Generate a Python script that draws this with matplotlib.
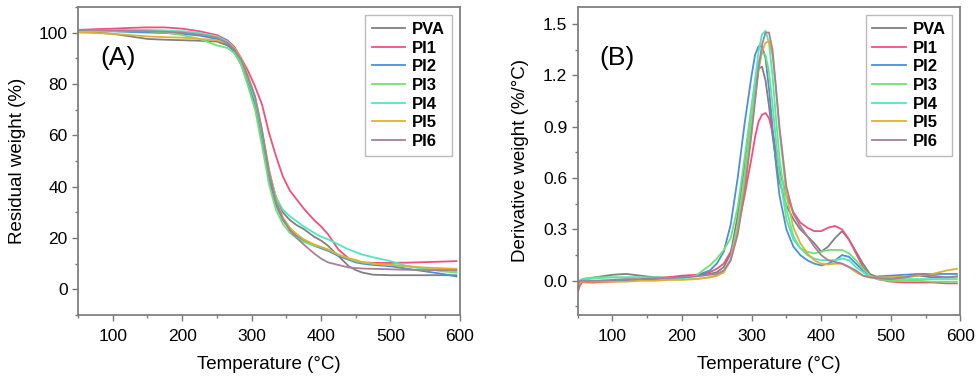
import matplotlib
matplotlib.use("Agg")
import matplotlib.pyplot as plt
from matplotlib.ticker import MultipleLocator, FormatStrFormatter

plt.rcParams['font.family'] = ['Liberation Sans', 'DejaVu Sans']

names = ["PVA", "PI1", "PI2", "PI3", "PI4", "PI5", "PI6"]
colors = ["#808080", "#f2507a", "#4a8fe0", "#6ee46e", "#4de8c0", "#e0b030", "#a88098"]

# (A) TGA curves
temp_a = [50, 75, 100, 125, 150, 175, 200, 225, 250, 265, 275, 285, 295, 305, 315,
          325, 335, 345, 355, 365, 375, 390, 400, 410, 425, 440, 450, 460, 475,
          500, 525, 550, 575, 595]
tga_pva = [100.5, 100, 99.5, 98.5, 97.5, 97.2, 97, 96.8, 96.5, 95, 93, 89, 82, 74, 61,
           46, 36, 30, 27, 25, 23.5, 20.5, 19, 17, 13, 9, 7.5, 6.5, 5.7,
           5.5, 5.5, 5.5, 5.5, 5.5]
tga_pi1 = [101, 101.3, 101.5, 101.8, 102, 102, 101.5, 100.5, 99, 97, 94.5, 90, 85, 79, 72,
           61, 52, 44, 38.5, 35, 31.5, 27, 24.5, 21.5, 15.5, 12, 11, 10.5, 10.3,
           10.3, 10.4, 10.6, 10.8, 11]
tga_pi2 = [101, 100.8, 100.5, 100.2, 100, 99.8, 99.5, 98.8, 97.5, 95.5, 92.5, 87.5, 80, 72, 58,
           43, 33, 27, 23.5, 21, 19, 17, 16, 15, 13, 11.5, 10.5, 10, 9.5,
           9, 8, 7, 6, 5]
tga_pi3 = [100.5, 100.5, 100.5, 100.5, 100.5, 100, 99, 97.5, 95, 94, 92, 87.5, 79, 70, 56,
           41, 31, 25.5, 22, 20, 18.5, 17, 16.5, 15.5, 13.5, 12, 11, 10.5, 10,
           9.5, 9, 8, 7, 6.5]
tga_pi4 = [100.5, 100.8, 101, 101, 101, 100.8, 100.5, 99.8, 98.5, 96.5, 94, 89, 82, 74, 61,
           46, 36, 31, 28.5, 26.5, 24.5, 22, 20.5, 19.5, 17.5, 15.5, 14.5, 13.5, 12.5,
           11, 9, 8, 7.5, 7]
tga_pi5 = [100, 99.8, 99.5, 99, 98.5, 98.2, 98, 97.5, 97, 96, 94, 90, 83, 75, 62,
           47, 35, 28, 24, 21.5, 19.5, 17.5, 16.5, 15.5, 13.5, 12, 11.5, 10.5, 10,
           9.5, 9, 8.5, 8.2, 8]
tga_pi6 = [101, 101, 100.8, 100.6, 100.5, 100.3, 100, 99.2, 98, 96, 93.5, 89.5, 82.5, 75, 62,
           46, 34, 27.5, 23, 20, 17.5, 14, 12, 10.5, 9.5, 8.5, 8.3, 8.1, 8,
           7.8, 7.6, 7.5, 7.5, 7.5]

# (B) DTG curves
temp_b = [50, 53, 57, 62, 75, 100, 120, 140, 160, 180, 200, 220, 240, 250, 260, 270,
          280, 290, 300, 305, 310, 315, 320, 325, 330, 335, 340, 350, 360, 370, 380,
          390, 400, 410, 420, 430, 440, 450, 460, 470, 480, 500, 520, 540, 560, 580, 595]
dtg_pva = [-0.02, 0.0, 0.005, 0.01, 0.02, 0.035, 0.04, 0.03, 0.02, 0.02, 0.025, 0.03, 0.04, 0.05, 0.08, 0.16,
           0.38, 0.68, 1.0, 1.15, 1.24, 1.25, 1.17, 1.02, 0.85, 0.7, 0.58, 0.44, 0.36, 0.3, 0.26,
           0.22, 0.17, 0.2, 0.25, 0.29, 0.24, 0.17, 0.1, 0.04, 0.02, 0.02, 0.02, 0.03, 0.02, 0.02, 0.025]
dtg_pi1 = [-0.07, -0.03, -0.005, -0.01, -0.01, -0.005, 0.0, 0.005, 0.01, 0.02, 0.03, 0.035, 0.05, 0.07, 0.1, 0.17,
           0.3, 0.5, 0.72, 0.84, 0.93, 0.97, 0.98, 0.95, 0.87, 0.76, 0.65, 0.5, 0.4, 0.34, 0.31,
           0.29, 0.29, 0.31, 0.32, 0.3, 0.24, 0.16, 0.08, 0.03, 0.01, -0.005, -0.01, -0.01, -0.01, -0.015, -0.015]
dtg_pi2 = [-0.03, 0.0, 0.005, 0.0, 0.0, 0.0, 0.005, 0.005, 0.01, 0.015, 0.02, 0.03, 0.06, 0.1, 0.17, 0.33,
           0.6, 0.92, 1.2, 1.32, 1.37, 1.37, 1.3, 1.12, 0.9, 0.68, 0.5, 0.3, 0.2, 0.15, 0.12,
           0.1, 0.09, 0.1, 0.12, 0.15, 0.14, 0.1, 0.06, 0.03, 0.025, 0.03, 0.035, 0.04, 0.04, 0.04, 0.04]
dtg_pi3 = [-0.03, 0.0, 0.01, 0.015, 0.02, 0.02, 0.02, 0.02, 0.015, 0.015, 0.015, 0.03, 0.09, 0.13, 0.18, 0.25,
           0.43, 0.72, 1.03, 1.17, 1.28, 1.33, 1.32, 1.22, 1.03, 0.82, 0.62, 0.36, 0.24, 0.19, 0.17,
           0.16, 0.17, 0.18, 0.18, 0.18, 0.16, 0.12, 0.07, 0.03, 0.01, 0.0, 0.0, 0.0, -0.005, -0.005, -0.005]
dtg_pi4 = [-0.02, 0.0, 0.01, 0.01, 0.015, 0.02, 0.02, 0.02, 0.02, 0.015, 0.01, 0.01, 0.02, 0.03, 0.05, 0.13,
           0.33, 0.62, 0.97, 1.17, 1.34, 1.44, 1.46, 1.39, 1.2, 0.95, 0.72, 0.42, 0.26, 0.19, 0.15,
           0.13, 0.12, 0.12, 0.12, 0.13, 0.12, 0.08, 0.05, 0.02, 0.015, 0.01, 0.01, 0.01, 0.01, 0.01, 0.01]
dtg_pi5 = [-0.02, -0.01, -0.005, -0.005, -0.005, -0.005, -0.005, 0.0, 0.0, 0.005, 0.005, 0.01, 0.02, 0.03, 0.05, 0.12,
           0.3, 0.57, 0.9, 1.07, 1.23, 1.34, 1.39, 1.4, 1.32, 1.12, 0.88, 0.5, 0.31, 0.22, 0.16,
           0.12, 0.1, 0.095, 0.1, 0.1, 0.08, 0.05, 0.03, 0.02, 0.02, 0.02, 0.025, 0.03, 0.04, 0.06, 0.07]
dtg_pi6 = [-0.03, 0.0, 0.0, 0.0, 0.0, 0.005, 0.01, 0.01, 0.015, 0.015, 0.02, 0.025, 0.035, 0.04, 0.06, 0.12,
           0.27, 0.52, 0.86, 1.05, 1.24, 1.38, 1.45, 1.45, 1.35, 1.13, 0.9, 0.55, 0.39, 0.32, 0.26,
           0.2, 0.15, 0.12, 0.11, 0.1, 0.08, 0.06, 0.03, 0.02, 0.015, 0.01, 0.02, 0.04, 0.03, 0.02, 0.025]

tga = [tga_pva, tga_pi1, tga_pi2, tga_pi3, tga_pi4, tga_pi5, tga_pi6]
dtg = [dtg_pva, dtg_pi1, dtg_pi2, dtg_pi3, dtg_pi4, dtg_pi5, dtg_pi6]

fig = plt.figure(figsize=(9.79, 3.8), dpi=100)
ax1 = fig.add_axes([0.0797, 0.171, 0.39, 0.811])
ax2 = fig.add_axes([0.590, 0.171, 0.391, 0.811])

for name, c, y in zip(names, colors, tga):
    ax1.plot(temp_a, y, color=c, lw=1.3, label=name)
for name, c, y in zip(names, colors, dtg):
    ax2.plot(temp_b, y, color=c, lw=1.3, label=name)

ax1.set_xlim(50, 600)
ax1.set_ylim(-10, 110)
ax1.xaxis.set_major_locator(MultipleLocator(100))
ax1.xaxis.set_minor_locator(MultipleLocator(50))
ax1.yaxis.set_minor_locator(MultipleLocator(10))
ax1.set_yticks([0, 20, 40, 60, 80, 100])
ax1.set_ylabel("Residual weight (%)", fontsize=13.5, labelpad=9)

ax2.set_xlim(50, 600)
ax2.set_ylim(-0.2, 1.6)
ax2.xaxis.set_major_locator(MultipleLocator(100))
ax2.xaxis.set_minor_locator(MultipleLocator(50))
ax2.yaxis.set_minor_locator(MultipleLocator(0.15))
ax2.set_yticks([0.0, 0.3, 0.6, 0.9, 1.2, 1.5])
ax2.yaxis.set_major_formatter(FormatStrFormatter('%.1f'))
ax2.set_ylabel("Derivative weight (%/°C)", fontsize=13.5, labelpad=10)

for ax, tag in [(ax1, "(A)"), (ax2, "(B)")]:
    ax.set_xlabel("Temperature (°C)", fontsize=13.5, labelpad=9)
    ax.tick_params(which="major", direction="out", length=4, width=1, labelsize=12.5,
                   color="#777777", top=False, right=False)
    ax.tick_params(axis="x", which="major", pad=6)
    ax.tick_params(which="minor", direction="out", length=2.5, width=1,
                   color="#777777", top=False, right=False)
    for s in ax.spines.values():
        s.set_color("#808080")
        s.set_linewidth(1.3)
    ax.text(0.058, 0.834, tag, transform=ax.transAxes, fontsize=19, va="center", ha="left")
    leg = ax.legend(loc="upper right", prop={"weight": "bold", "size": 12},
                    handlelength=2.0, labelspacing=0.22, borderaxespad=0.5,
                    fancybox=False, framealpha=1, edgecolor="#bbbbbb", handletextpad=0.4)
    leg.get_frame().set_linewidth(1.0)

fig.savefig("out.png", dpi=100)
